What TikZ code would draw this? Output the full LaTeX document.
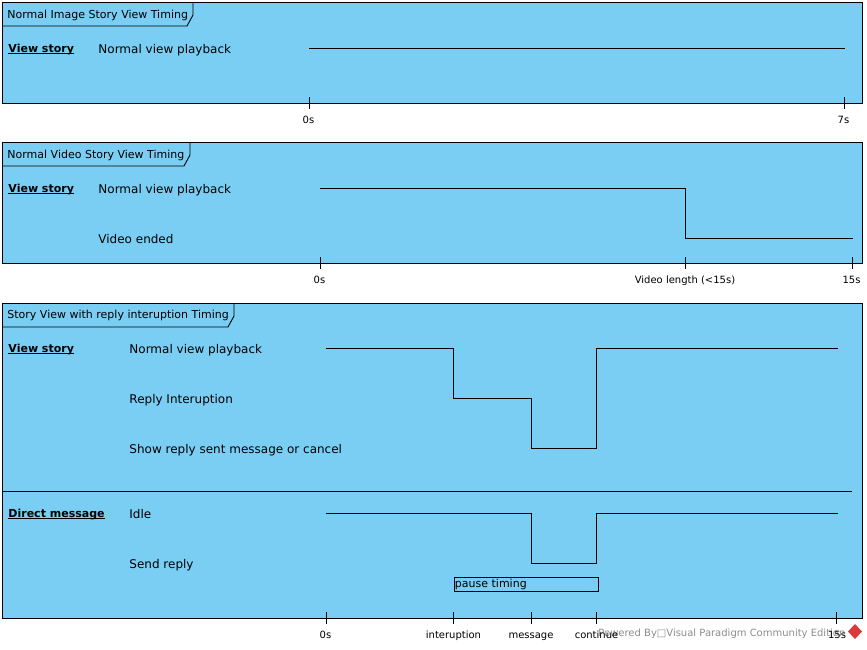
\documentclass[tikz,border=0pt]{standalone}
\usepackage{fontspec}
\setmainfont{DejaVu Sans}
\usetikzlibrary{positioning}
\definecolor{framefill}{HTML}{7ACEF4}
\definecolor{logored}{HTML}{D9383C}

\begin{document}
\begin{tikzpicture}[
    x=1pt, y=-1pt,
    line width=0.9pt,
    frame/.style={
        draw,
        fill=framefill
    },
    tag/.style={
        anchor=base west,
        inner sep=0pt,
        font=\fontsize{11}{13}\selectfont
    },
    lifeline/.style={
        anchor=base west,
        inner sep=0pt,
        font=\fontsize{11}{13}\selectfont\bfseries
    },
    state/.style={
        anchor=base west,
        inner sep=0pt,
        font=\fontsize{12}{14}\selectfont
    },
    ticklabel/.style={
        anchor=base,
        inner sep=0pt,
        font=\fontsize{10}{12}\selectfont
    }
]
    \useasboundingbox (0,0) rectangle (867,649);

    % Primeiro quadro: imagem
    \node[frame, minimum width=860pt, minimum height=101pt, anchor=north west, inner sep=0pt] (imgframe) at (2,2) {};
    \draw (2,26) -- (187,26) -- (193,15) -- (193,2);
    \node[tag] (imgtitle) at (7,18) {Normal Image Story View Timing};
    \node[lifeline] (imgview) at (8,52) {\underline{\smash{View story}}};
    \node[state] (imgnormal) at (98,53) {Normal view playback};

    \coordinate (imgstart) at (309,48);
    \coordinate (imgend) at (845,48);
    \draw (imgstart) -- (imgend);

    \coordinate (imgtickA) at (309,97);
    \coordinate (imgtickB) at (844,97);
    \draw (imgtickA) -- ++(0,12);
    \draw (imgtickB) -- ++(0,12);
    \node[ticklabel] (img0s) at (308.5,123) {0s};
    \node[ticklabel] (img7s) at (843.5,123) {7s};

    % Segundo quadro: video
    \node[frame, minimum width=860pt, minimum height=121pt, anchor=north west, inner sep=0pt] (vidframe) at (2,142) {};
    \draw (2,166) -- (184,166) -- (190,155) -- (190,142);
    \node[tag] (vidtitle) at (7,158) {Normal Video Story View Timing};
    \node[lifeline] (vidview) at (8,192) {\underline{\smash{View story}}};
    \node[state] (vidnormal) at (98,193) {Normal view playback};
    \node[state] (vidended) at (98,243) {Video ended};

    \coordinate (vidstart) at (320,188);
    \coordinate (vidend) at (853,238);
    \draw (vidstart) -- (685,188) -- (685,238) -- (vidend);

    \coordinate (vidtickA) at (320,257);
    \coordinate (vidtickB) at (685,257);
    \coordinate (vidtickC) at (852,257);
    \draw (vidtickA) -- ++(0,12);
    \draw (vidtickB) -- ++(0,12);
    \draw (vidtickC) -- ++(0,12);
    \node[ticklabel] (vid0s) at (319.5,283) {0s};
    \node[ticklabel] (vidlen) at (685,283) {Video length (<15s)};
    \node[ticklabel] (vid15s) at (851.5,283) {15s};

    % Terceiro quadro: resposta
    \node[frame, minimum width=860pt, minimum height=315pt, anchor=north west, inner sep=0pt] (repframe) at (2,303) {};
    \draw (2,327) -- (228,327) -- (234,316) -- (234,303);
    \node[tag] (reptitle) at (7,318.5) {Story View with reply interuption Timing};
    \node[lifeline] (repview) at (8,352) {\underline{\smash{View story}}};
    \node[state] (repnormal) at (129,353) {Normal view playback};
    \node[state] (repreply) at (129,403) {Reply Interuption};
    \node[state] (repshow) at (129,453) {Show reply sent message or cancel};

    \coordinate (repstart) at (326,348);
    \coordinate (repend) at (838,348);
    \draw (repstart) -- (453,348) -- (453,398) -- (531,398) -- (531,448) -- (596.5,448) -- (596.5,348) -- (repend);

    % Separador entre as linhas de vida
    \coordinate (sepleft) at (2,491);
    \coordinate (sepright) at (852,491);
    \draw (sepleft) -- (sepright);

    \node[lifeline] (dmlabel) at (8,517) {\underline{\smash{Direct message}}};
    \node[state] (dmidle) at (129,518) {Idle};
    \node[state] (dmsend) at (129,568) {Send reply};

    \coordinate (dmstart) at (326,513);
    \coordinate (dmend) at (838,513);
    \draw (dmstart) -- (531,513) -- (531,563) -- (596.5,563) -- (596.5,513) -- (dmend);

    \node[draw, minimum width=144pt, minimum height=14pt, inner sep=0pt, anchor=north west] (pausebox) at (454,577) {};
    \node[anchor=base west, inner sep=0pt, font=\fontsize{11}{13}\selectfont] (pausetext) at (454.5,587.5) {pause timing};

    % Marca d'agua
    \node[anchor=base west, inner sep=0pt, text=black!45, font=\fontsize{10}{12}\selectfont] (powered) at (598,636) {Powered By□Visual Paradigm Community Edition};
    \fill[logored] (855,624) -- (862,631.5) -- (855,639) -- (848,631.5) -- cycle;

    \coordinate (reptickA) at (326,612);
    \coordinate (reptickB) at (453,612);
    \coordinate (reptickC) at (531,612);
    \coordinate (reptickD) at (596.5,612);
    \coordinate (reptickE) at (836,612);
    \foreach \t in {reptickA,reptickB,reptickC,reptickD,reptickE}
        \draw (\t) -- ++(0,12);
    \node[ticklabel] (rep0s) at (325.5,638) {0s};
    \node[ticklabel] (repint) at (453.5,638) {interuption};
    \node[ticklabel] (repmsg) at (531,638) {message};
    \node[ticklabel] (repcont) at (596.5,638) {continue};
    \node[ticklabel] (rep15s) at (837,638) {15s};
\end{tikzpicture}
\end{document}
